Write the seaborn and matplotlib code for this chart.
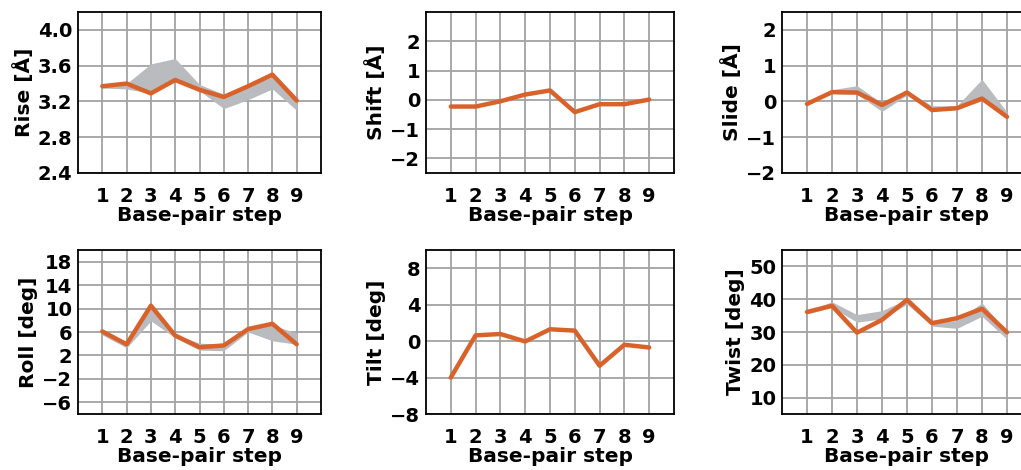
import numpy as np
import pandas as pd
import seaborn as sns
import matplotlib.pyplot as plt

# base-pair steps
steps = [1, 2, 3, 4, 5, 6, 7, 8, 9]

# values (orange line = reference structure, grey = ensemble range)
rise = [3.37, 3.40, 3.29, 3.44, 3.33, 3.25, 3.37, 3.50, 3.21]
rise_lo = [3.35, 3.34, 3.29, 3.44, 3.32, 3.12, 3.22, 3.34, 3.10]
rise_hi = [3.37, 3.40, 3.62, 3.68, 3.39, 3.28, 3.38, 3.48, 3.20]

shift = [-0.23, -0.23, -0.05, 0.18, 0.32, -0.42, -0.15, -0.15, 0.01]

slide = [-0.07, 0.26, 0.25, -0.10, 0.25, -0.24, -0.19, 0.08, -0.43]
slide_lo = [-0.10, 0.22, 0.20, -0.28, 0.18, -0.26, -0.22, 0.02, -0.48]
slide_hi = [-0.03, 0.33, 0.44, -0.05, 0.30, -0.12, -0.12, 0.62, -0.30]

roll = [6.1, 3.9, 10.5, 5.4, 3.4, 3.7, 6.5, 7.4, 3.9]
roll_lo = [5.5, 3.3, 7.9, 5.0, 2.9, 2.8, 6.0, 4.5, 3.9]
roll_hi = [6.1, 3.9, 10.5, 5.6, 4.1, 3.9, 7.0, 7.2, 5.8]

tilt = [-4.0, 0.63, 0.78, -0.04, 1.3, 1.15, -2.7, -0.4, -0.7]

twist = [36.1, 38.0, 29.8, 33.7, 39.8, 32.7, 34.2, 37.1, 29.9]
twist_lo = [35.5, 37.5, 33.0, 34.0, 38.5, 31.8, 31.1, 34.8, 27.8]
twist_hi = [36.5, 39.2, 35.3, 36.5, 40.0, 33.0, 33.5, 38.9, 30.0]

ORANGE = "#D9622B"
BAND = "#B9BBBF"

sns.set_style('whitegrid', {'grid.color': '#A3A3A3', 'axes.edgecolor': 'black',
                            'text.color': 'black', 'axes.labelcolor': 'black',
                            'xtick.color': 'black', 'ytick.color': 'black'})
plt.rcParams['font.family'] = ['DejaVu Sans']
plt.rcParams['font.weight'] = 'bold'

fig = plt.figure(figsize=(10.21, 4.70), dpi=100)
W, H = 1021, 470

col_x = [(78, 321), (426, 674), (782, 1032)]
row_y = [(12, 173), (250, 414)]

panels = [
    ("Rise [Å]", rise, rise_lo, rise_hi, (2.4, 4.2), np.arange(2.4, 4.01, 0.4), "{:.1f}"),
    ("Shift [Å]", shift, None, None, (-2.5, 3), np.arange(-2, 2.1, 1), "{:.0f}"),
    ("Slide [Å]", slide, slide_lo, slide_hi, (-2, 2.5), np.arange(-2, 2.1, 1), "{:.0f}"),
    ("Roll [deg]", roll, roll_lo, roll_hi, (-8, 20), np.arange(-6, 18.1, 4), "{:.0f}"),
    ("Tilt [deg]", tilt, None, None, (-8, 10), np.arange(-8, 8.1, 4), "{:.0f}"),
    ("Twist [deg]", twist, twist_lo, twist_hi, (5, 55), np.arange(10, 50.1, 10), "{:.0f}"),
]

for i, (label, vals, lo, hi, ylim, yticks, fmt) in enumerate(panels):
    r, c = divmod(i, 3)
    x0, x1 = col_x[c]
    yt, yb = row_y[r]
    ax = fig.add_axes([x0 / W, 1 - yb / H, (x1 - x0) / W, (yb - yt) / H])
    df = pd.DataFrame({"step": steps, "val": vals})
    if lo is not None:
        ax.fill_between(steps, lo, hi, color=BAND, linewidth=0, zorder=2)
    sns.lineplot(data=df, x="step", y="val", color=ORANGE, linewidth=3.2, ax=ax, zorder=3)
    ax.set_xlim(0, 10)
    ax.set_ylim(*ylim)
    ax.set_xticks(steps)
    ax.set_yticks(yticks)
    ax.set_yticklabels([fmt.format(v).replace("-", "\u2212") for v in yticks])
    ax.grid(True, color='#A3A3A3', linewidth=1.3)
    ax.tick_params(axis='both', length=0, labelsize=14, colors='black')
    ax.tick_params(axis='x', pad=10)
    ax.tick_params(axis='y', pad=4)
    for s in ax.spines.values():
        s.set_visible(True)
        s.set_color('black')
        s.set_linewidth(1.3)
    ax.set_xlabel("Base-pair step", fontsize=14.5, fontweight='bold', labelpad=0)
    ax.set_ylabel(label, fontsize=14.5, fontweight='bold', labelpad=3)

fig.savefig("out.png", dpi=100)
